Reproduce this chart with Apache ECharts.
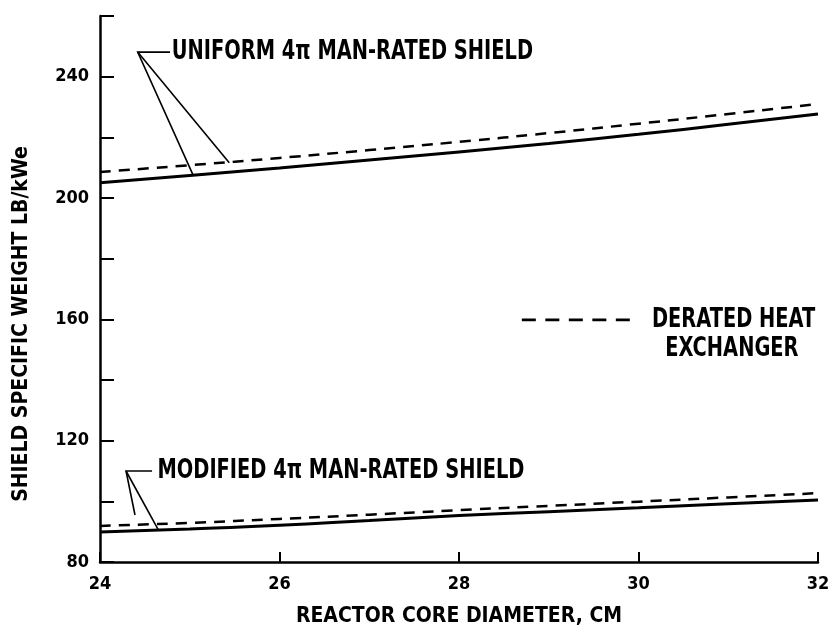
<!DOCTYPE html>
<html>
<head>
<meta charset="utf-8">
<script src="https://cdn.jsdelivr.net/npm/echarts@6/dist/echarts.min.js"></script>
<style>
  html, body { margin: 0; padding: 0; background: #fff; }
  #chart { width: 836px; height: 638px; }
</style>
</head>
<body>
<div id="chart"></div>
<script>
  // reactor core diameter, cm
  const diameters = [24, 25, 26, 27, 28, 29, 30, 31, 32];
  // shield specific weight, lb/kWe
  const uniformShield = [205, 207.4, 209.9, 212.5, 215.2, 218, 221, 224.3, 227.7];
  const uniformDerated = [208.6, 210.8, 213.2, 215.8, 218.5, 221.4, 224.5, 227.7, 231];
  const modifiedShield = [89.9, 90.9, 92.1, 93.7, 95.3, 96.6, 97.9, 99.2, 100.4];
  const modifiedDerated = [91.9, 92.9, 94.2, 95.6, 97.1, 98.5, 99.9, 101.3, 102.7];
  const yTickLabels = [80, 120, 160, 200, 240];

  const FONT = '"DejaVu Sans Condensed", "Liberation Sans Narrow", sans-serif';

  function pairs(ys) {
    return diameters.map((x, i) => [x, ys[i]]);
  }

  let chart = echarts.init(document.getElementById('chart'));

  chart.setOption({
    animation: false,
    backgroundColor: '#fff',
    grid: { left: 100, right: 18, top: 16, bottom: 76 },
    xAxis: {
      type: 'value',
      min: 24, max: 32, interval: 2,
      name: 'REACTOR CORE DIAMETER, CM',
      nameLocation: 'middle',
      nameGap: 44,
      nameTextStyle: { fontFamily: FONT, fontWeight: 'bold', fontSize: 21, color: '#000' },
      axisLine: { lineStyle: { color: '#000', width: 2.5 } },
      axisTick: { inside: true, length: 10, lineStyle: { color: '#000', width: 2 } },
      axisLabel: { fontFamily: FONT, fontWeight: 'bold', fontSize: 18, color: '#000', margin: 13 },
      splitLine: { show: false }
    },
    yAxis: {
      type: 'value',
      min: 80, max: 260, interval: 20,
      name: 'SHIELD SPECIFIC WEIGHT LB/kWe',
      nameLocation: 'middle',
      nameGap: 68,
      nameTextStyle: { fontFamily: FONT, fontWeight: 'bold', fontSize: 21, color: '#000', padding: [0, 0, 0, -70] },
      axisLine: { lineStyle: { color: '#000', width: 2.5 } },
      axisTick: { inside: true, length: 14, lineStyle: { color: '#000', width: 2 } },
      axisLabel: {
        fontFamily: FONT, fontWeight: 'bold', fontSize: 18, color: '#000', margin: 11,
        formatter: v => yTickLabels.indexOf(v) >= 0 ? String(v) : ''
      },
      splitLine: { show: false }
    },
    series: [
      { name: 'uniform', type: 'line', data: pairs(uniformShield), symbol: 'none', smooth: true,
        lineStyle: { color: '#000', width: 3 } },
      { name: 'uniform derated', type: 'line', data: pairs(uniformDerated), symbol: 'none', smooth: true,
        lineStyle: { color: '#000', width: 2.5, type: [11, 8] } },
      { name: 'modified', type: 'line', data: pairs(modifiedShield), symbol: 'none', smooth: true,
        lineStyle: { color: '#000', width: 3 } },
      { name: 'modified derated', type: 'line', data: pairs(modifiedDerated), symbol: 'none', smooth: true,
        lineStyle: { color: '#000', width: 2.5, type: [11, 8] } }
    ]
  });

  // annotations: leader lines placed in data coordinates
  const px = p => chart.convertToPixel({ gridIndex: 0 }, p);
  const leader = (pts) => ({
    type: 'polyline', silent: true,
    shape: { points: pts.map(px) },
    style: { stroke: '#000', lineWidth: 1.6, fill: null }
  });
  const txt = (p, text, align) => {
    const q = px(p);
    return {
      type: 'text', x: q[0], y: q[1], scaleX: 0.83, silent: true,
      style: { text: text, fill: '#000', font: 'bold 26px ' + FONT, align: align || 'left', verticalAlign: 'middle' }
    };
  };

  chart.setOption({
    graphic: [
      leader([[24.78, 248.1], [24.42, 248.1], [25.04, 207.4]]),
      leader([[24.42, 248.1], [25.44, 211.6]]),
      txt([24.8, 248.1], 'UNIFORM 4\u03c0 MAN-RATED SHIELD'),
      leader([[24.58, 110], [24.29, 110], [24.39, 95.5]]),
      leader([[24.29, 110], [24.65, 90.6]]),
      txt([24.64, 110], 'MODIFIED 4\u03c0 MAN-RATED SHIELD'),
      {
        type: 'line', silent: true,
        shape: (function () { const a = px([28.7, 159.8]), b = px([29.92, 159.8]); return { x1: a[0], y1: a[1], x2: b[0], y2: b[1] }; })(),
        style: { stroke: '#000', lineWidth: 2.8, lineDash: [14, 9.5] }
      },
      txt([30.15, 159.8], 'DERATED HEAT'),
      txt([31.04, 150.2], 'EXCHANGER', 'center')
    ]
  });
</script>
</body>
</html>
